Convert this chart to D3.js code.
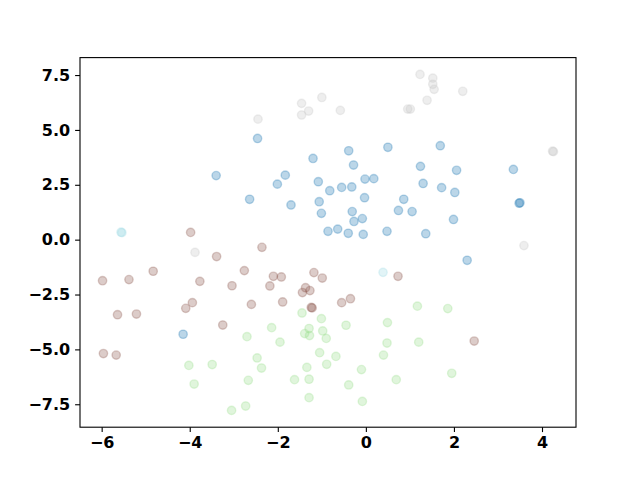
<!DOCTYPE html>
<html>
<head>
<meta charset="utf-8">
<script src="https://cdn.jsdelivr.net/npm/d3@7"></script>
<style>
  body { margin: 0; background: #fff; }
  .tick text { font-family: "DejaVu Sans", sans-serif; font-weight: bold; font-size: 16px; fill: #000; }
</style>
</head>
<body>
<div id="chart"></div>
<script>
// cluster points, [x, y]
const blueX = [-2.46, -1.20, -3.40, -1.83, -2.01, -1.08, -0.82, -2.64, -1.70, -1.06, -1.01, -0.86, -0.39, 0.50, 1.69, -0.28, 1.24, 2.06, 3.35, -0.02, 0.18, 1.30, -0.55, -0.32, 1.72, 2.02, -0.03, 0.86, 3.48, 3.50, -0.31, 0.74, 1.05, -0.08, -0.27, 1.99, -0.64, -0.40, -0.06, 0.48, 1.36, 2.30, -4.15];
const blueY = [4.61, 3.70, 2.92, 2.94, 2.53, 2.64, 2.23, 1.84, 1.58, 1.73, 1.20, 0.38, 4.05, 4.21, 4.28, 3.40, 3.34, 3.16, 3.20, 2.76, 2.78, 2.56, 2.38, 2.40, 2.37, 2.15, 1.91, 1.84, 1.66, 1.68, 1.28, 1.33, 1.28, 0.96, 0.83, 0.92, 0.48, 0.29, 0.24, 0.38, 0.27, -0.94, -4.31];

const greenX = [-1.45, -1.01, -1.29, -1.39, -1.28, -0.98, -0.90, -2.14, -2.70, -1.95, -2.47, -2.37, -1.05, -0.89, -4.02, -3.49, -3.90, -2.67, -1.62, -1.34, -1.29, -1.29, -2.73, -3.05, 1.17, 1.86, -0.45, 0.49, 0.48, 1.20, -0.68, 0.40, -0.10, 0.69, 1.95, -0.39, -0.08];
const greenY = [-3.34, -3.60, -4.05, -4.28, -4.37, -4.16, -4.50, -4.01, -4.42, -4.67, -5.39, -5.85, -5.15, -5.68, -5.73, -5.69, -6.58, -6.41, -6.38, -5.82, -6.36, -7.20, -7.58, -7.78, -3.03, -3.14, -3.90, -3.78, -4.71, -4.67, -5.32, -5.26, -5.92, -6.38, -6.09, -6.62, -7.37];

const brownX = [-3.98, -2.36, -3.39, -5.98, -5.38, -4.83, -3.77, -2.76, -3.04, -2.10, -1.92, -2.18, -1.18, -0.99, -1.37, -1.27, -1.44, -1.24, -1.22, -1.89, -2.60, -3.94, -4.09, -5.64, -5.21, -3.25, -5.96, -5.67, 0.73, -0.55, -0.35, 2.46];
const brownY = [0.33, -0.35, -0.77, -1.87, -1.82, -1.44, -1.90, -1.41, -2.10, -1.67, -1.70, -2.11, -1.50, -1.75, -2.19, -2.32, -2.41, -3.09, -3.11, -2.84, -2.95, -2.87, -3.13, -3.42, -3.39, -3.89, -5.19, -5.26, -1.67, -2.87, -2.69, -4.62];

const greyX = [-1.46, -1.00, -1.46, -1.30, -2.45, -0.58, 1.23, 1.52, 1.52, 1.55, 2.20, 1.39, 0.95, 1.01, 4.24, 4.26, 3.59, -3.88];
const greyY = [6.21, 6.48, 5.68, 5.86, 5.49, 5.89, 7.53, 7.36, 7.08, 6.85, 6.76, 6.35, 5.95, 5.95, 4.03, 4.01, -0.27, -0.58];

const cyanX = [-5.56, -5.54, 0.39];
const cyanY = [0.34, 0.32, -1.49];

const xTicks = [-6, -4, -2, 0, 2, 4];
const xTickLabels = ["\u22126", "\u22124", "\u22122", "0", "2", "4"];
const yTicks = [-7.5, -5, -2.5, 0, 2.5, 5, 7.5];
const yTickLabels = ["\u22127.5", "\u22125.0", "\u22122.5", "0.0", "2.5", "5.0", "7.5"];

const groups = [
  { xs: blueX, ys: blueY, color: "#1f77b4" },
  { xs: greenX, ys: greenY, color: "#98df8a" },
  { xs: brownX, ys: brownY, color: "#8c564b" },
  { xs: greyX, ys: greyY, color: "#c7c7c7" },
  { xs: cyanX, ys: cyanY, color: "#9edae5" }
];

var width = 640, height = 480;
// axes box, matplotlib default subplot params
var plotLeft = 80, plotRight = 576, plotTop = 57.6, plotBottom = 427.2;

var points = [];
groups.forEach(function(g) {
  g.xs.forEach(function(x, i) { points.push({ x: x, y: g.ys[i], color: g.color }); });
});

// 5% margins like matplotlib autoscale
var xExt = d3.extent(points, d => d.x), yExt = d3.extent(points, d => d.y);
var xPad = (xExt[1] - xExt[0]) * 0.05, yPad = (yExt[1] - yExt[0]) * 0.05;

var x = d3.scaleLinear().domain([xExt[0] - xPad, xExt[1] + xPad]).range([plotLeft, plotRight]);
var y = d3.scaleLinear().domain([yExt[0] - yPad, yExt[1] + yPad]).range([plotBottom, plotTop]);

var svg = d3.select("#chart").append("svg")
  .attr("width", width)
  .attr("height", height);

svg.append("g")
  .selectAll("circle")
  .data(points)
  .enter()
  .append("circle")
    .attr("cx", d => x(d.x))
    .attr("cy", d => y(d.y))
    .attr("r", 4.17)
    .attr("fill", d => d.color)
    .attr("fill-opacity", 0.3)
    .attr("stroke", d => d.color)
    .attr("stroke-opacity", 0.3)
    .attr("stroke-width", 1.39);

// frame
svg.append("rect")
  .attr("x", plotLeft).attr("y", plotTop)
  .attr("width", plotRight - plotLeft).attr("height", plotBottom - plotTop)
  .attr("fill", "none")
  .attr("stroke", "#000")
  .attr("stroke-width", 1.1);

var xAxis = d3.axisBottom(x).tickValues(xTicks)
  .tickFormat((d, i) => xTickLabels[i])
  .tickSize(4.9).tickPadding(4.9);
var yAxis = d3.axisLeft(y).tickValues(yTicks)
  .tickFormat((d, i) => yTickLabels[i])
  .tickSize(4.9).tickPadding(4.9);

var gx = svg.append("g").attr("transform", "translate(0," + plotBottom + ")").call(xAxis);
var gy = svg.append("g").attr("transform", "translate(" + plotLeft + ",0)").call(yAxis);

[gx, gy].forEach(function(g) {
  g.select(".domain").remove();
  g.selectAll(".tick line").attr("stroke", "#000").attr("stroke-width", 1.1);
});
</script>
</body>
</html>
